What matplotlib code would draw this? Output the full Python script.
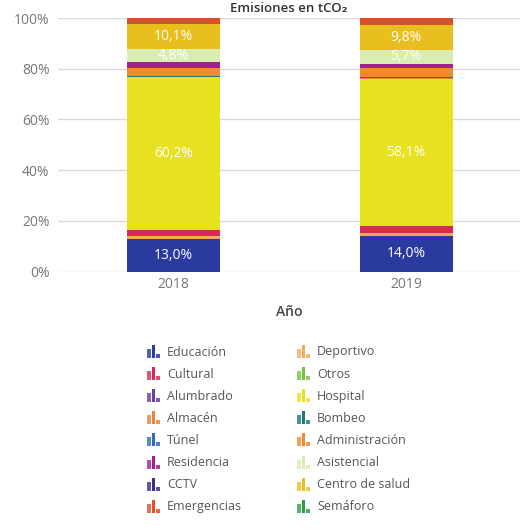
"""Stacked 100% bar chart of CO2 emissions by building type, 2018 vs 2019."""

import matplotlib

matplotlib.use("Agg")
import matplotlib.pyplot as plt
import numpy as np
from matplotlib.patches import Rectangle

plt.rcParams["font.family"] = ["Open Sans", "DejaVu Sans"]

YEARS = ["2018", "2019"]

# stacking order, bottom to top (also the row-major legend order)
CATEGORIES = [
    "Educación", "Deportivo", "Cultural", "Otros", "Alumbrado", "Hospital",
    "Almacén", "Bombeo", "Túnel", "Administración", "Residencia", "Asistencial",
    "CCTV", "Centro de salud", "Emergencias", "Semáforo",
]
COLORS = [
    "#2b3a9e", "#f4a95a", "#d52a56", "#7cc142", "#6a3fa0", "#e8e11f",
    "#e8843a", "#1f7a7a", "#2f6db5", "#f08a2c", "#a3208f", "#d9ecb2",
    "#3b2f8f", "#e9bf1f", "#dc4f2a", "#2e9e4a",
]
SHARE_2018 = [13.0, 1.0, 2.5, 0.0, 0.0, 60.2, 0.1, 0.4, 0.0, 3.0, 2.6, 4.8,
              0.0, 10.1, 2.3, 0.0]
SHARE_2019 = [14.0, 1.0, 3.0, 0.0, 0.0, 58.1, 0.1, 0.4, 0.0, 3.5, 1.7, 5.7,
              0.0, 9.8, 2.7, 0.0]

# legend is laid out in two columns of eight
LEGEND_COL1 = ["Educación", "Cultural", "Alumbrado", "Almacén", "Túnel",
               "Residencia", "CCTV", "Emergencias"]
LEGEND_COL2 = ["Deportivo", "Otros", "Hospital", "Bombeo", "Administración",
               "Asistencial", "Centro de salud", "Semáforo"]

W, H = 520, 531
fig = plt.figure(figsize=(W / 100, H / 100), dpi=100)
ax = fig.add_axes([58 / W, 1 - 271.5 / H, (W - 58) / W, 253.5 / H])

shares = np.array([SHARE_2018, SHARE_2019])
x = np.arange(len(YEARS))
bottom = np.zeros(len(YEARS))
for j, (name, color) in enumerate(zip(CATEGORIES, COLORS)):
    vals = shares[:, j]
    ax.bar(x, vals, width=0.4, bottom=bottom, color=color, linewidth=0, zorder=2)
    for xi, v, b in zip(x, vals, bottom):
        if v >= 4:
            ax.text(xi, b + v / 2, f"{v:.1f}%".replace(".", ","), ha="center",
                    va="center", color="white", fontsize=10, zorder=3)
    bottom += vals

ax.set_xlim(-0.497, 1.49)
ax.set_ylim(0, 100)
ax.set_yticks(np.arange(0, 101, 20))
ax.set_yticklabels([f"{t}%" for t in range(0, 101, 20)])
ax.set_xticks(x)
ax.set_xticklabels(YEARS)
ax.grid(axis="y", color="#d9d9d9", linewidth=1, zorder=0)
ax.tick_params(axis="both", length=0, labelsize=10, labelcolor="#777777")
ax.tick_params(axis="y", pad=6)
ax.tick_params(axis="x", pad=4)
for spine in ax.spines.values():
    spine.set_visible(False)
ax.set_xlabel("Año", fontsize=10, color="#444444", fontweight="semibold",
              labelpad=9)

fig.text(289 / W, 1 - 12 / H, "Emisiones en tCO₂", ha="center", va="baseline",
         fontsize=9.5, fontweight="semibold", color="#333333")

# legend drawn in pixel space below the plot
lax = fig.add_axes([0, 0, 1, 1], facecolor="none")
lax.set_xlim(0, W)
lax.set_ylim(H, 0)
lax.axis("off")
color_of = dict(zip(CATEGORIES, COLORS))
for col, (names, x0) in enumerate([(LEGEND_COL1, 147), (LEGEND_COL2, 297)]):
    for row, name in enumerate(names):
        yc = 352 + row * 22.1
        base = yc + 6
        c = color_of[name]
        for dx, h, a in [(0, 9, 0.8), (4.5, 13, 1.0), (9, 4, 0.85)]:
            lax.add_patch(Rectangle((x0 + dx, base - h), 3.5, h, color=c,
                                    alpha=a, linewidth=0))
        lax.text(x0 + 20, yc, name, va="center", ha="left", fontsize=9,
                 color="#555555")

fig.savefig("out.png", dpi=100)
